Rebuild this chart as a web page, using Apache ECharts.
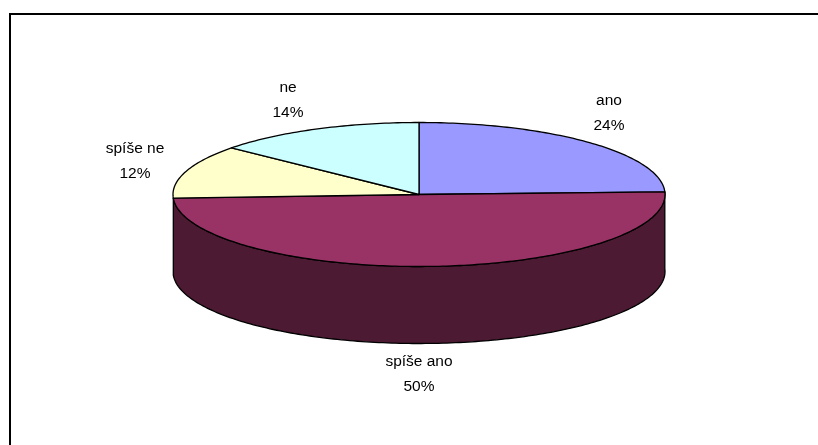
<!DOCTYPE html>
<html><head><meta charset="utf-8">
<style>html,body{margin:0;padding:0;background:#fff}#c{width:818px;height:445px}</style>
<script src="https://cdn.jsdelivr.net/npm/echarts@6/dist/echarts.min.js"></script>
</head><body><div id="c"></div>
<script>
const categories = ['ano', 'spíše ano', 'spíše ne', 'ne'];
const values = [24.4, 49.8, 12, 13.8];
const topColors = ['#9999FF', '#993366', '#FFFFCC', '#CCFFFF'];
const sideColors = ['#4C4C80', '#4D1A33', '#808066', '#668080'];
const labelAnchors = [[609, 113], [419, 374.5], [135, 161], [288, 100]];

const CX = 419, CY = 194.5, RX = 246, RY = 72, DEPTH = 77;
const total = values.reduce((a, b) => a + b, 0);
const pt = (deg, dy) => {
  const r = deg * Math.PI / 180;
  return [CX + RX * Math.sin(r), CY - RY * Math.cos(r) + (dy || 0)];
};
function arc(a0, a1, dy) {
  const out = [], n = Math.max(2, Math.ceil(Math.abs(a1 - a0)));
  for (let i = 0; i <= n; i++) out.push(pt(a0 + (a1 - a0) * i / n, dy));
  return out;
}
const starts = [];
values.reduce((s, v, i) => { starts[i] = s; return s + v; }, 0);
const line = { stroke: '#000', lineWidth: 1.3, lineJoin: 'round' };

function renderItem(params, api) {
  const i = params.dataIndex;
  const a0 = api.value(1) / total * 360;
  const a1 = a0 + api.value(0) / total * 360;
  const children = [];
  // front wall is drawn only for the slice that crosses the near half of the ellipse
  if (a0 < 180 && a1 > 90) {
    const top = arc(a0, a1, 0);
    const bottom = arc(a1, a0, DEPTH);
    children.push({ type: 'polygon', shape: { points: top.concat(bottom) },
      style: { fill: sideColors[i], ...line } });
  }
  children.push({ type: 'polygon', shape: { points: [[CX, CY]].concat(arc(a0, a1, 0)) },
    style: { fill: topColors[i], ...line } });
  const [lx, ly] = labelAnchors[i];
  children.push({ type: 'text', z2: 10, style: {
    x: lx, y: ly, text: categories[i] + '\n' + Math.round(values[i]) + '%',
    align: 'center', verticalAlign: 'middle', lineHeight: 25,
    font: '15.5px "Liberation Sans", Arial, sans-serif', fill: '#000' } });
  return { type: 'group', children };
}

const chart = echarts.init(document.getElementById('c'), null, { renderer: 'canvas' });
chart.setOption({
  animation: false,
  backgroundColor: '#fff',
  graphic: [{ type: 'polyline', shape: { points: [[10, 445], [10, 14], [818, 14]] },
    style: { fill: 'none', stroke: '#000', lineWidth: 2 }, silent: true }],
  series: [{
    type: 'custom', coordinateSystem: 'none', renderItem,
    data: values.map((v, i) => [v, starts[i]])
  }]
});
</script></body></html>
